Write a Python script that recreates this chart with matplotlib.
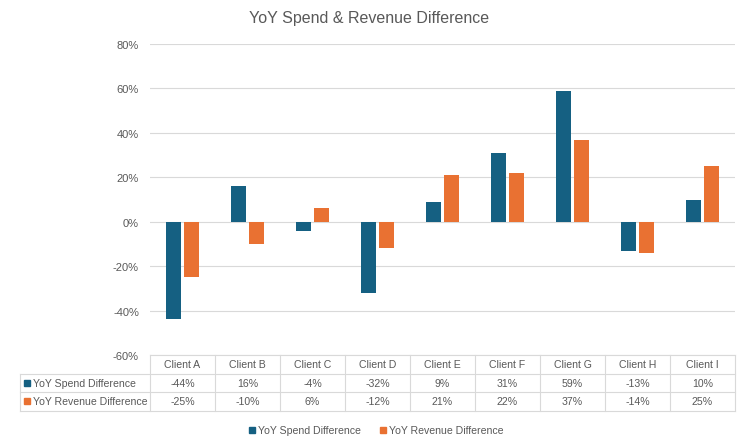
import matplotlib.pyplot as plt
import numpy as np
from matplotlib.patches import Rectangle

plt.rcParams['font.family'] = ['Liberation Sans', 'DejaVu Sans']

clients = ['Client A', 'Client B', 'Client C', 'Client D', 'Client E',
           'Client F', 'Client G', 'Client H', 'Client I']
spend = [-44, 16, -4, -32, 9, 31, 59, -13, 10]
revenue = [-25, -10, 6, -12, 21, 22, 37, -14, 25]
series_names = ['YoY Spend Difference', 'YoY Revenue Difference']
y_ticks = [-60, -40, -20, 0, 20, 40, 60, 80]

blue = '#156082'
orange = '#E97132'
text_col = '#595959'
grid_col = '#d9d9d9'

W, H = 738, 439
fig = plt.figure(figsize=(W / 100, H / 100), dpi=100)

# plot area in pixels
left, right, top, bottom = 150, 735, 45, 356
ax = fig.add_axes([left / W, 1 - bottom / H, (right - left) / W, (bottom - top) / H])

x = np.arange(len(clients))
bw = 0.22
off = 0.14
ax.bar(x - off, spend, bw, color=blue, zorder=3)
ax.bar(x + off, revenue, bw, color=orange, zorder=3)

ax.set_xlim(-0.5, len(clients) - 0.5)
ax.set_ylim(-60, 80)
ax.set_yticks(y_ticks)
ax.set_yticklabels([f'{t}%' for t in y_ticks], color=text_col, fontsize=8)
ax.tick_params(axis='y', length=0, pad=8)
ax.set_xticks([])
ax.yaxis.grid(True, color=grid_col, linewidth=0.8, zorder=0)
for s in ax.spines.values():
    s.set_visible(False)

fig.text(0.5, 1 - 18 / H, 'YoY Spend & Revenue Difference', ha='center', va='center',
         fontsize=11.5, color=text_col)

# data table under the plot, drawn in figure pixels
def fx(px):
    return px / W

def fy(py):
    return 1 - py / H

row_y = [356, 374.5, 393, 411.5]
col_w = (right - left) / len(clients)
lab_left = 20
lw = 0.8

# horizontal lines
fig.add_artist(plt.Line2D([fx(left), fx(right)], [fy(row_y[0])] * 2, color=grid_col, lw=lw))
for yy in row_y[1:]:
    fig.add_artist(plt.Line2D([fx(lab_left), fx(right)], [fy(yy)] * 2, color=grid_col, lw=lw))
# vertical lines
fig.add_artist(plt.Line2D([fx(lab_left)] * 2, [fy(row_y[1]), fy(row_y[3])], color=grid_col, lw=lw))
for i in range(len(clients) + 1):
    xx = left + i * col_w
    fig.add_artist(plt.Line2D([fx(xx)] * 2, [fy(row_y[0]), fy(row_y[3])], color=grid_col, lw=lw))

fs = 7.6
for i, c in enumerate(clients):
    cx = left + (i + 0.5) * col_w
    fig.text(fx(cx), fy((row_y[0] + row_y[1]) / 2), c, ha='center', va='center',
             fontsize=fs, color=text_col)
    fig.text(fx(cx), fy((row_y[1] + row_y[2]) / 2), f'{spend[i]}%', ha='center', va='center',
             fontsize=fs, color=text_col)
    fig.text(fx(cx), fy((row_y[2] + row_y[3]) / 2), f'{revenue[i]}%', ha='center', va='center',
             fontsize=fs, color=text_col)

sq = 6
for r, (name, col) in enumerate(zip(series_names, [blue, orange])):
    cy = (row_y[r + 1] + row_y[r + 2]) / 2
    fig.add_artist(Rectangle((fx(24), fy(cy + sq / 2)), sq / W, sq / H, color=col))
    fig.text(fx(33), fy(cy), name, ha='left', va='center', fontsize=fs, color=text_col)

# legend at the bottom
leg_y = 431
for lx, name, col in [(249, series_names[0], blue), (380, series_names[1], orange)]:
    fig.add_artist(Rectangle((fx(lx), fy(leg_y + sq / 2)), sq / W, sq / H, color=col))
    fig.text(fx(lx + 9), fy(leg_y), name, ha='left', va='center', fontsize=fs, color=text_col)

fig.savefig('out.png', dpi=100)
